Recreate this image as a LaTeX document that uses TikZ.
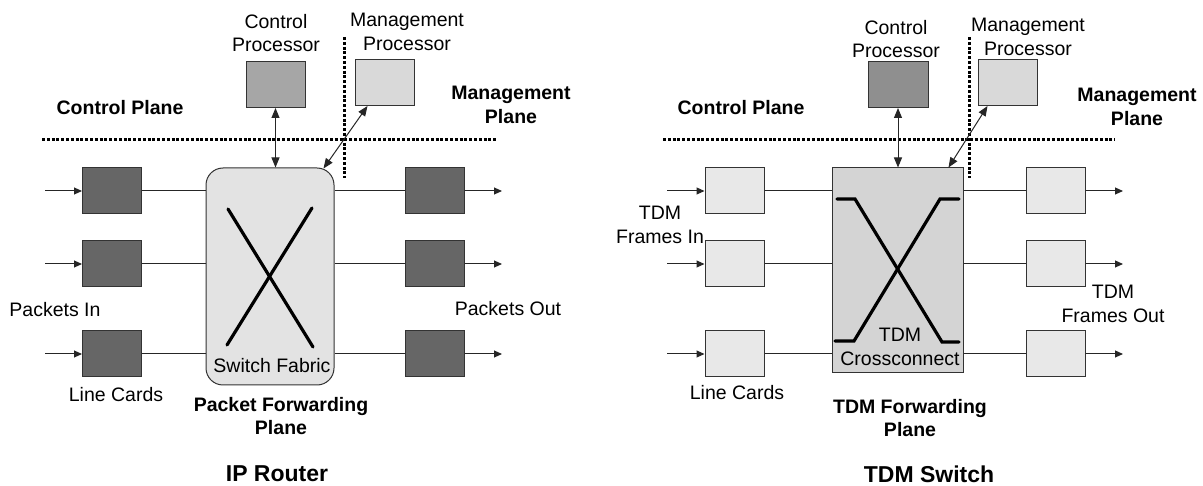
\documentclass[tikz,border=0pt]{standalone}
\usepackage{fontspec}
\setmainfont{Liberation Sans}
\usetikzlibrary{arrows.meta}
\definecolor{lcdark}{HTML}{666666}
\definecolor{cpL}{HTML}{A6A6A6}
\definecolor{cpR}{HTML}{8F8F8F}
\definecolor{mpfill}{HTML}{D9D9D9}
\definecolor{swfill}{HTML}{E3E3E3}
\definecolor{lclight}{HTML}{E8E8E8}
\definecolor{tdmfill}{HTML}{D4D4D4}
\definecolor{edge}{HTML}{333333}
\tikzset{
  cardbox/.style={draw=edge, line width=1pt, minimum width=59pt, minimum height=46pt, inner sep=0pt},
  lbl/.style={font=\fontsize{19.5}{23.5}\selectfont, align=center, inner sep=0pt},
  blbl/.style={font=\fontsize{19.5}{23.5}\selectfont\bfseries, align=center, inner sep=0pt},
  ttl/.style={font=\fontsize{23}{27}\selectfont\bfseries, inner sep=0pt},
  planeline/.style={line width=3pt, dash pattern=on 3pt off 1.8pt},
  conn/.style={line width=1pt, black!85},
  arr/.style={conn, -{Triangle[length=8pt,width=7pt]}},
  darr/.style={conn, {Triangle[length=10pt,width=8pt]}-{Triangle[length=10pt,width=8pt]}},
  xline/.style={line width=3.2pt, line cap=round},
}
\begin{document}
\begin{tikzpicture}[x=1pt,y=-1pt]
\path[use as bounding box] (0,0) rectangle (1203,486);

% ================= IP Router =================
\node[lbl] (cpLt) at (276,33) {Control\\Processor};
\node[cardbox, fill=cpL, minimum width=59pt] (cpLb) at (275.5,84.5) {};
\node[lbl] (mpLt) at (407,32) {Management\\Processor};
\node[cardbox, fill=mpfill] (mpLb) at (384.5,82.5) {};
\node[blbl] (cplL) at (120,108) {Control Plane};
\node[blbl] (mplL) at (511,105) {Management\\Plane};
\coordinate (hdL1) at (42,140);
\coordinate (hdL2) at (496,140);
\coordinate (vdL1) at (344,37);
\coordinate (vdL2) at (344,178);
\draw[planeline] (hdL1) -- (hdL2);
\draw[planeline] (vdL1) -- (vdL2);

\node[draw=edge, line width=1pt, fill=swfill, rounded corners=17pt, minimum width=128pt, minimum height=217pt, inner sep=0pt] (sw) at (270,276.5) {};
\draw[xline] (228,209) -- (313,347);
\draw[xline] (312,208) -- (227,345);
\node[lbl] (swt) at (272,366) {Switch Fabric};

\foreach \i/\y in {1/191,2/264,3/354}{
  \node[cardbox, fill=lcdark] (lcLi\i) at (112,\y) {};
  \node[cardbox, fill=lcdark] (lcLo\i) at (435,\y) {};
  \coordinate (inL\i) at (45,\y);
  \coordinate (outL\i) at (502,\y);
  \draw[arr] (inL\i) -- (lcLi\i.west);
  \draw[conn] (lcLi\i.east) -- (lcLi\i.east -| sw.west);
  \draw[conn] (lcLo\i.west -| sw.east) -- (lcLo\i.west);
  \draw[arr] (lcLo\i.east) -- (outL\i);
}
\draw[darr] (cpLb.south) -- (cpLb.south |- sw.north);
\draw[darr] ([xshift=13pt]mpLb.south west) -- ([xshift=-11pt,yshift=-1pt]sw.north east);

\node[lbl] (pin) at (55,310) {Packets In};
\node[lbl] (pout) at (508,309) {Packets Out};
\node[lbl] (lcL) at (116,395) {Line Cards};
\node[blbl] (pfp) at (281,416) {Packet Forwarding\\Plane};
\node[ttl] (ipr) at (277,474) {IP Router};

% ================= TDM Switch =================
\node[lbl] (cpRt) at (896,39) {Control\\Processor};
\node[cardbox, fill=cpR, minimum width=60pt] (cpRb) at (898,84.5) {};
\node[lbl] (mpRt) at (1028,37) {Management\\Processor};
\node[cardbox, fill=mpfill] (mpRb) at (1007.5,82.5) {};
\node[blbl] (cplR) at (741,108) {Control Plane};
\node[blbl] (mplR) at (1137,107) {Management\\Plane};
\coordinate (hdR1) at (663,140);
\coordinate (hdR2) at (1115,140);
\coordinate (vdR1) at (969,37);
\coordinate (vdR2) at (969,178);
\draw[planeline] (hdR1) -- (hdR2);
\draw[planeline] (vdR1) -- (vdR2);

\node[draw=edge, line width=1pt, fill=tdmfill, minimum width=131pt, minimum height=205pt, inner sep=0pt] (tdm) at (897.5,270.5) {};
\draw[xline] (837,199) -- (855,199) -- (942,342) -- (959,342);
\draw[xline] (959,199) -- (940,199) -- (854,341) -- (835,341);
\node[lbl] (tdmt) at (900,347) {TDM\\Crossconnect};

\foreach \i/\y in {1/191,2/264,3/354}{
  \node[cardbox, fill=lclight] (lcRi\i) at (734.5,\y) {};
  \node[cardbox, fill=lclight] (lcRo\i) at (1055.5,\y) {};
  \coordinate (inR\i) at (667,\y);
  \coordinate (outR\i) at (1123,\y);
  \draw[arr] (inR\i) -- (lcRi\i.west);
  \draw[conn] (lcRi\i.east) -- (lcRi\i.east -| tdm.west);
  \draw[conn] (lcRo\i.west -| tdm.east) -- (lcRo\i.west);
  \draw[arr] (lcRo\i.east) -- (outR\i);
}
\draw[darr] (cpRb.south) -- (cpRb.south |- tdm.north);
\draw[darr] ([xshift=10pt]mpRb.south west) -- ([xshift=-15pt]tdm.north east);

\node[lbl] (fin) at (660,225) {TDM\\Frames In};
\node[lbl] (fout) at (1113,304) {TDM\\Frames Out};
\node[lbl] (lcR) at (737,393) {Line Cards};
\node[blbl] (tfp) at (910,418) {TDM Forwarding\\Plane};
\node[ttl] (tsw) at (929,474) {TDM Switch};
\end{tikzpicture}
\end{document}
